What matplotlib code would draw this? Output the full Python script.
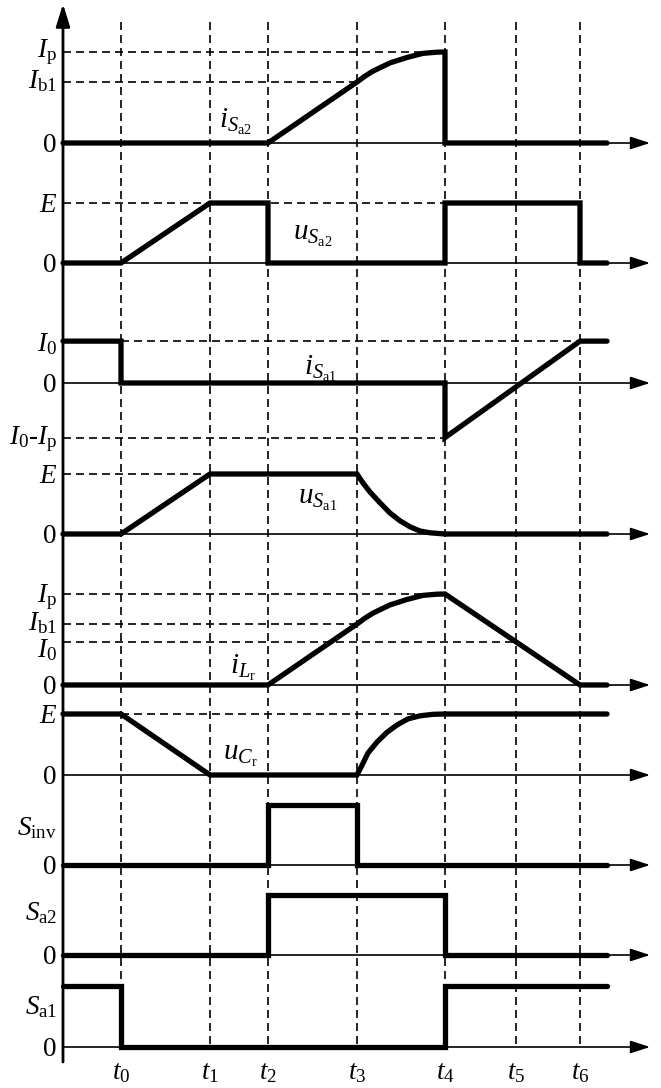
import matplotlib
matplotlib.use("Agg")
import matplotlib.pyplot as plt

plt.rcParams.update({
    "font.family": "Liberation Serif",
    "mathtext.fontset": "custom",
    "mathtext.rm": "Liberation Serif",
    "mathtext.it": "Liberation Serif:italic",
    "mathtext.bf": "Liberation Serif:bold",
    "font.size": 19.5,
})

W, H = 661, 1088

# ── time instants (arbitrary time units) ─────────────────────────────────────
t_marks = [0.58, 1.47, 2.05, 2.94, 3.82, 4.53, 5.17]
t_names = [r"$t_0$", r"$t_1$", r"$t_2$", r"$t_3$", r"$t_4$", r"$t_5$", r"$t_6$"]

# ── waveforms (normalised: Ip = 1, E = 1, switch on = 1) ─────────────────────
i_sa2_t = [0.00, 2.05, 2.94, 3.02, 3.10, 3.27, 3.44, 3.60, 3.74, 3.82, 3.82, 5.44]
i_sa2_v = [0.00, 0.00, 0.67, 0.735, 0.79, 0.88, 0.94, 0.985, 0.998, 1.00, 0.00, 0.00]

u_sa2_t = [0.00, 0.58, 1.47, 2.05, 2.05, 3.82, 3.82, 5.17, 5.17, 5.44]
u_sa2_v = [0, 0, 1, 1, 0, 0, 1, 1, 0, 0]

i_sa1_t = [0.00, 0.58, 0.58, 3.82, 3.82, 5.17, 5.44]
i_sa1_v = [0.46, 0.46, 0.00, 0.00, -0.60, 0.46, 0.46]

u_sa1_t = [0.00, 0.58, 1.47, 2.94, 3.00, 3.07, 3.17, 3.27, 3.37, 3.47, 3.57, 3.67, 3.82, 5.44]
u_sa1_v = [0.00, 0.00, 1.00, 1.00, 0.85, 0.70, 0.52, 0.35, 0.22, 0.12, 0.05, 0.02, 0.00, 0.00]

i_lr_t = [0.00, 2.05, 2.94, 3.02, 3.10, 3.27, 3.44, 3.60, 3.74, 3.82, 5.17, 5.44]
i_lr_v = [0.00, 0.00, 0.67, 0.735, 0.79, 0.88, 0.94, 0.985, 0.998, 1.00, 0.00, 0.00]

u_cr_t = [0.00, 0.58, 1.47, 2.94, 2.99, 3.05, 3.14, 3.24, 3.34, 3.45, 3.57, 3.70, 3.82, 5.44]
u_cr_v = [1.00, 1.00, 0.00, 0.00, 0.16, 0.36, 0.54, 0.70, 0.82, 0.92, 0.97, 0.995, 1.00, 1.00]

s_inv_t = [0.00, 2.05, 2.05, 2.94, 2.94, 5.44]
s_inv_v = [0, 0, 1, 1, 0, 0]

s_a2_t = [0.00, 2.05, 2.05, 3.82, 3.82, 5.44]
s_a2_v = [0, 0, 1, 1, 0, 0]

s_a1_t = [0.00, 0.58, 0.58, 3.82, 3.82, 5.44]
s_a1_v = [1, 1, 0, 0, 1, 1]

# dashed reference levels: (level, t_from, t_to)
i_sa2_refs = [(1.00, 0, 3.82), (0.67, 0, 2.94)]
u_sa2_refs = [(1.00, 0, 3.82)]
i_sa1_refs = [(0.46, 0.58, 5.17), (-0.60, 0, 3.82)]
u_sa1_refs = [(1.00, 0, 1.47)]
i_lr_refs = [(1.00, 0, 3.82), (0.67, 0, 2.94), (0.47, 0, 4.53)]
u_cr_refs = [(1.00, 0.58, 3.82)]

# y-axis labels: (level, text, baseline drop in px)
i_sa2_ylab = [(1.00, r"$I_{\mathrm{p}}$", 5), (0.67, r"$I_{\mathrm{b1}}$", 6), (0, "0", 9)]
u_sa2_ylab = [(1.00, r"$E$", 9), (0, "0", 9)]
i_sa1_ylab = [(0.46, r"$I_0$", 10), (0, "0", 9), (-0.60, r"$I_0$-$I_{\mathrm{p}}$", 7)]
u_sa1_ylab = [(1.00, r"$E$", 9), (0, "0", 9)]
i_lr_ylab = [(1.00, r"$I_{\mathrm{p}}$", 8), (0.67, r"$I_{\mathrm{b1}}$", 6),
             (0.47, r"$I_0$", 15), (0, "0", 9)]
u_cr_ylab = [(1.00, r"$E$", 9), (0, "0", 9)]
s_inv_ylab = [(1.00, r"$S_{\mathrm{inv}}$", 30), (0, "0", 9)]
s_a2_ylab = [(1.00, r"$S_{\mathrm{a2}}$", 25), (0, "0", 9)]
s_a1_ylab = [(1.00, r"$S_{\mathrm{a1}}$", 28), (0, "0", 9)]

# ── layout ───────────────────────────────────────────────────────────────────
XLIM = (-0.63, 5.98)          # time axis origin sits at x = 63 px
T_END_ARROW = 5.87
DASH = (0, (4.8, 3.0))
THICK = 3.8

fig = plt.figure(figsize=(W / 100, H / 100), dpi=100)
bg = fig.add_axes([0, 0, 1, 1])
bg.set_xlim(*XLIM); bg.set_ylim(H, 0); bg.axis("off")

# vertical dashed time markers and the vertical axis
bg.vlines(t_marks, 22, 1047, colors="k", linestyles=DASH, lw=1.2)
bg.annotate("", xy=(0, 4), xytext=(0, 1062),
            arrowprops=dict(arrowstyle="-|>,head_length=0.45,head_width=0.14",
                            lw=2.0, color="k", fc="k", mutation_scale=30,
                            shrinkA=0, shrinkB=0))
for t, name in zip(t_marks, t_names):
    bg.text(t, 1079, name, ha="center", va="baseline")


def panel(base_px, unit_px, t, v, refs, ylabs, label=None, lo=-0.9, hi=1.25):
    top = base_px - hi * unit_px
    bot = base_px - lo * unit_px
    ax = fig.add_axes([0, 1 - bot / H, 1, (bot - top) / H])
    ax.set_xlim(*XLIM); ax.set_ylim(lo, hi); ax.axis("off")
    ax.patch.set_alpha(0)
    ax.annotate("", xy=(T_END_ARROW, 0), xytext=(0, 0),
                arrowprops=dict(arrowstyle="-|>,head_length=0.4,head_width=0.13",
                                lw=1.2, color="k", fc="k", mutation_scale=30,
                                shrinkA=0, shrinkB=0))
    for lev, a, b in refs:
        ax.plot([a, b], [lev, lev], color="k", lw=1.2, linestyle=DASH)
    ax.plot(t, v, color="k", lw=THICK, solid_capstyle="round",
            solid_joinstyle="miter", zorder=5)
    for lev, txt, drop in ylabs:
        ax.annotate(txt, xy=(-0.06, lev), xytext=(0, -drop),
                    textcoords="offset pixels", ha="right", va="baseline")
    if label is not None:
        lt, lv, txt = label
        ax.text(lt, lv, txt, ha="center", va="center", fontsize=21)
    return ax


panel(143, 91, i_sa2_t, i_sa2_v, i_sa2_refs, i_sa2_ylab,
      (1.72, 0.23, r"$i_{S_{\mathrm{a2}}}$"))
panel(263, 60, u_sa2_t, u_sa2_v, u_sa2_refs, u_sa2_ylab,
      (2.50, 0.45, r"$u_{S_{\mathrm{a2}}}$"))
panel(383, 91, i_sa1_t, i_sa1_v, i_sa1_refs, i_sa1_ylab,
      (2.57, 0.16, r"$i_{S_{\mathrm{a1}}}$"))
panel(534, 60, u_sa1_t, u_sa1_v, u_sa1_refs, u_sa1_ylab,
      (2.55, 0.57, r"$u_{S_{\mathrm{a1}}}$"))
panel(685, 91, i_lr_t, i_lr_v, i_lr_refs, i_lr_ylab,
      (1.80, 0.19, r"$i_{L_{\mathrm{r}}}$"))
panel(775, 61, u_cr_t, u_cr_v, u_cr_refs, u_cr_ylab,
      (1.77, 0.31, r"$u_{C_{\mathrm{r}}}$"))
panel(865, 60, s_inv_t, s_inv_v, [], s_inv_ylab)
panel(955, 60, s_a2_t, s_a2_v, [], s_a2_ylab)
panel(1047, 61, s_a1_t, s_a1_v, [], s_a1_ylab)

fig.savefig("out.png", dpi=100)
